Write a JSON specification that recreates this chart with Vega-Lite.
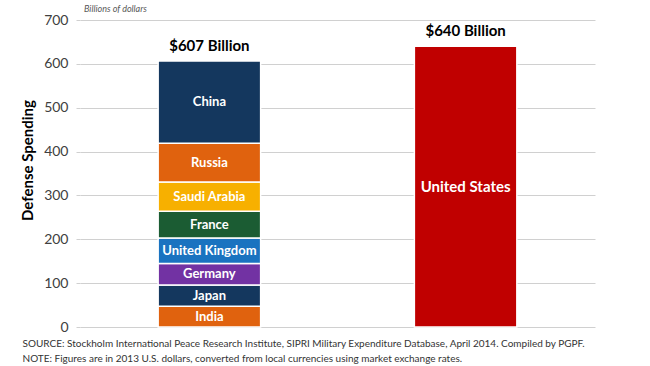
{
  "$schema": "https://vega.github.io/schema/vega-lite/v6.json",
  "width": 515,
  "height": 307,
  "autosize": "none",
  "padding": {"left": 80, "top": 20, "right": 55, "bottom": 39},
  "background": "white",
  "title": {
    "text": "Billions of dollars",
    "anchor": "start",
    "frame": "group",
    "orient": "top",
    "dx": 4,
    "offset": 0,
    "dy": 1,
    "font": "Lato",
    "fontSize": 9,
    "fontStyle": "italic",
    "fontWeight": "normal",
    "color": "#595959"
  },
  "config": {
    "view": {"stroke": null},
    "font": "Lato"
  },
  "layer": [
    {
      "data": {
        "values": [
          {"group": "Next 8", "country": "India", "value": 47.4, "order": 1},
          {"group": "Next 8", "country": "Japan", "value": 48.6, "order": 2},
          {"group": "Next 8", "country": "Germany", "value": 48.8, "order": 3},
          {"group": "Next 8", "country": "United Kingdom", "value": 57.9, "order": 4},
          {"group": "Next 8", "country": "France", "value": 61.2, "order": 5},
          {"group": "Next 8", "country": "Saudi Arabia", "value": 67.0, "order": 6},
          {"group": "Next 8", "country": "Russia", "value": 87.8, "order": 7},
          {"group": "Next 8", "country": "China", "value": 188.0, "order": 8},
          {"group": "US", "country": "United States", "value": 640, "order": 1}
        ]
      },
      "transform": [
        {"stack": "value", "groupby": ["group"], "sort": [{"field": "order"}], "as": ["y0", "y1"]},
        {"calculate": "(datum.y0 + datum.y1) / 2", "as": "mid"}
      ],
      "layer": [
        {
          "mark": {"type": "bar", "stroke": "white", "strokeWidth": 1.5},
          "encoding": {
            "x": {
              "field": "group",
              "type": "nominal",
              "sort": ["Next 8", "US"],
              "scale": {"paddingInner": 0.6, "paddingOuter": 0.305},
              "axis": {
                "labels": false,
                "ticks": false,
                "domain": false,
                "title": [
                  "SOURCE: Stockholm International Peace Research Institute, SIPRI Military Expenditure Database, April 2014. Compiled by PGPF.",
                  "NOTE: Figures are in 2013 U.S. dollars, converted from local currencies using market exchange rates."
                ],
                "titleFont": "Lato",
                "titleFontSize": 10,
                "titleFontWeight": "normal",
                "titleColor": "#333333",
                "titleAnchor": "start",
                "titleAlign": "left",
                "titleBaseline": "alphabetic",
                "titleX": -58,
                "titleY": 19,
                "titleLineHeight": 15
              }
            },
            "y": {
              "field": "y1",
              "type": "quantitative",
              "scale": {"domain": [0, 700]},
              "axis": {
                "values": [0, 100, 200, 300, 400, 500, 600, 700],
                "grid": true,
                "gridColor": "#d0d0d0",
                "domain": false,
                "ticks": true,
                "tickColor": "#d0d0d0",
                "tickSize": 4,
                "labelFont": "Lato",
                "labelFontSize": 14,
                "labelColor": "#404040",
                "labelPadding": 8,
                "title": "Defense Spending",
                "titleFont": "Lato",
                "titleFontSize": 15,
                "titleFontWeight": "bold",
                "titleColor": "#000000",
                "titleX": -45,
                "titleY": 140,
                "titleAngle": -90,
                "titleAlign": "center",
                "titleBaseline": "bottom"
              }
            },
            "y2": {"field": "y0"},
            "color": {
              "field": "country",
              "type": "nominal",
              "scale": {
                "domain": ["India", "Japan", "Germany", "United Kingdom", "France", "Saudi Arabia", "Russia", "China", "United States"],
                "range": ["#e0620e", "#14375e", "#7232a3", "#1a73c0", "#1b5c33", "#f7b000", "#e0620e", "#14375e", "#c00000"]
              },
              "legend": null
            }
          }
        },
        {
          "mark": {"type": "text", "color": "white", "fontWeight": "bold", "font": "Lato", "baseline": "middle"},
          "encoding": {
            "x": {"field": "group", "type": "nominal", "sort": ["Next 8", "US"]},
            "y": {"field": "mid", "type": "quantitative"},
            "text": {"field": "country"},
            "size": {"condition": {"test": "datum.group === 'US'", "value": 15}, "value": 13}
          }
        }
      ]
    },
    {
      "data": {
        "values": [
          {"group": "Next 8", "total": 607, "label": "$607 Billion"},
          {"group": "US", "total": 640, "label": "$640 Billion"}
        ]
      },
      "mark": {"type": "text", "color": "black", "fontWeight": "bold", "fontSize": 15, "font": "Lato", "baseline": "bottom", "dy": -7},
      "encoding": {
        "x": {"field": "group", "type": "nominal", "sort": ["Next 8", "US"]},
        "y": {"field": "total", "type": "quantitative"},
        "text": {"field": "label"}
      }
    }
  ]
}
